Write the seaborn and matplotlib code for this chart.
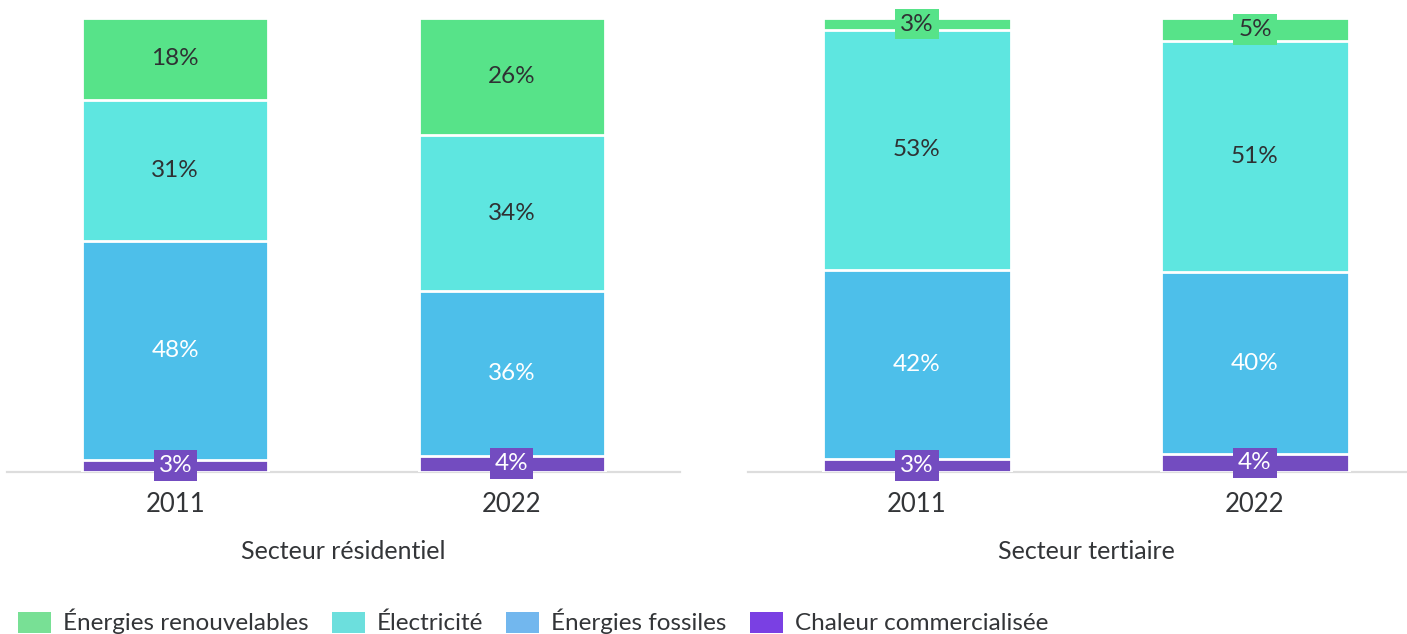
import pandas as pd
import seaborn as sns
import matplotlib.pyplot as plt
from matplotlib.patches import Patch

# Données (parts en %)
annees = ['2011', '2022']
sources = ['Chaleur commercialisée', 'Énergies fossiles', 'Électricité', 'Énergies renouvelables']
residentiel = {
    'Chaleur commercialisée': [2.6, 3.5],
    'Énergies fossiles': [48.3, 36.2],
    'Électricité': [31.1, 34.4],
    'Énergies renouvelables': [18.0, 25.9],
}
tertiaire = {
    'Chaleur commercialisée': [2.7, 3.8],
    'Énergies fossiles': [41.8, 40.2],
    'Électricité': [52.8, 51.0],
    'Énergies renouvelables': [2.7, 5.0],
}

couleurs_barres = {
    'Énergies renouvelables': '#57e389',
    'Électricité': '#5ee6e0',
    'Énergies fossiles': '#4dbfea',
    'Chaleur commercialisée': '#734cc0',
}
couleurs_legende = {
    'Énergies renouvelables': '#78e095',
    'Électricité': '#6cdfdd',
    'Énergies fossiles': '#72b7ee',
    'Chaleur commercialisée': '#7a40e3',
}
couleurs_texte = {
    'Énergies renouvelables': '#2f3133',
    'Électricité': '#2f3133',
    'Énergies fossiles': 'white',
    'Chaleur commercialisée': 'white',
}

sns.set_style('white')
plt.rcParams['font.family'] = ['Lato', 'DejaVu Sans']
gris = '#333538'

fig = plt.figure(figsize=(14.07, 6.34), dpi=100)
bas = (634 - 471.5) / 634
haut = (471.5 - 18) / 634
ax1 = fig.add_axes([7 / 1407, bas, 673 / 1407, haut])
ax2 = fig.add_axes([748 / 1407, bas, 676 / 1407, haut])


def tracer(ax, donnees, titre):
    df = pd.DataFrame(donnees)
    df['Année'] = annees
    cumul = df[sources].cumsum(axis=1)
    # barres empilées : on trace les cumuls du plus grand au plus petit
    for s in reversed(sources):
        sns.barplot(x=annees, y=cumul[s], ax=ax, color=couleurs_barres[s],
                    width=0.554, edgecolor='white', linewidth=2, saturation=1)
    for i in range(len(annees)):
        for s in sources:
            v = df.loc[i, s]
            y = cumul.loc[i, s] - v / 2
            ax.text(i, y, f'{round(v):.0f}%', ha='center', va='center',
                    fontsize=17.5, color=couleurs_texte[s], zorder=5,
                    bbox=dict(boxstyle='square,pad=0.2', fc=couleurs_barres[s], ec='none'))
    ax.set_ylim(0, 100)
    ax.set_xlim(-0.5, 1.5)
    ax.set_yticks([])
    ax.set_ylabel('')
    ax.set_xlabel(titre, fontsize=18, color=gris, labelpad=16)
    ax.tick_params(axis='x', length=0, pad=15, labelsize=18.5, labelcolor=gris)
    for sp in ['top', 'left', 'right']:
        ax.spines[sp].set_visible(False)
    ax.spines['bottom'].set_color('#dddddd')
    ax.spines['bottom'].set_linewidth(1.6)
    ax.spines['bottom'].set_zorder(0)


tracer(ax1, residentiel, 'Secteur résidentiel')
tracer(ax2, tertiaire, 'Secteur tertiaire')

ordre_legende = ['Énergies renouvelables', 'Électricité', 'Énergies fossiles', 'Chaleur commercialisée']
poignees = [Patch(facecolor=couleurs_legende[s], edgecolor='none', label=s) for s in ordre_legende]
fig.legend(handles=poignees, loc='lower left', bbox_to_anchor=(0.006, -0.016), ncol=4,
           frameon=False, fontsize=17.5, labelcolor=gris, handlelength=1.35, handleheight=0.95,
           handletextpad=0.5, columnspacing=0.95, borderaxespad=0)

fig.savefig('out.png', dpi=100)
